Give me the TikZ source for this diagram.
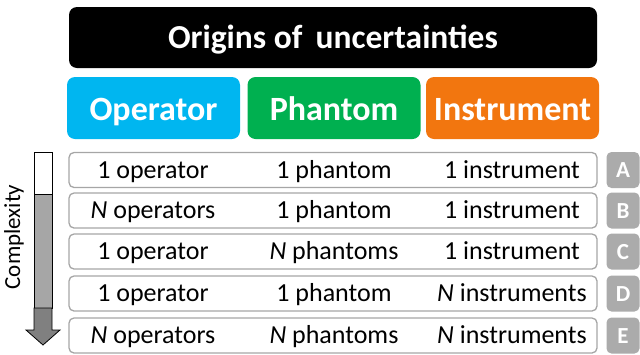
\documentclass[tikz,border=0pt]{standalone}
\usepackage{fontspec}
\setmainfont{Carlito}
\definecolor{opblue}{HTML}{00B6F0}
\definecolor{phgreen}{HTML}{00B050}
\definecolor{inorange}{HTML}{F2760F}
\definecolor{rowgray}{HTML}{A6A6A6}
\definecolor{lettergray}{HTML}{ABABAB}
\definecolor{darkgray}{HTML}{808080}
\tikzset{
  titlebox/.style={fill=black, rounded corners=8pt, inner sep=0pt},
  titletext/.style={inner sep=0pt, anchor=base, text=white, font=\fontsize{33.5}{35}\selectfont\bfseries},
  headbox/.style={rounded corners=8pt, inner sep=0pt, minimum width=173pt, minimum height=62pt},
  headtext/.style={inner sep=0pt, anchor=base, text=white, font=\fontsize{34}{36}\selectfont\bfseries},
  rowbox/.style={draw=rowgray, line width=1.3pt, fill=white, rounded corners=5pt, inner sep=0pt, minimum width=528pt, minimum height=35pt},
  letterbox/.style={fill=lettergray, rounded corners=5pt, inner sep=0pt, minimum width=33pt, minimum height=36pt},
  lettertext/.style={inner sep=0pt, anchor=base, text=white, font=\fontsize{23}{25}\selectfont\bfseries},
  cell/.style={inner sep=0pt, font=\fontsize{26}{28}\selectfont, anchor=base},
  arrowpart/.style={draw=black, line width=0.8pt},
}
\begin{document}
\begin{tikzpicture}[x=1pt,y=-1pt]
\useasboundingbox (0,0) rectangle (640,354);
% title
\node[titlebox, minimum width=528pt, minimum height=61pt] (title) at (333,37.5) {};
\node[titletext] (titlet) at (333,48) {Origins of\, uncertainties};
% headers
\node[headbox, fill=opblue] (op) at (153.5,108) {};
\node[headbox, fill=phgreen] (ph) at (334,108) {};
\node[headbox, fill=inorange] (in) at (512.5,108) {};
\node[headtext] (opt) at (153.5,120) {Operator};
\node[headtext] (pht) at (334,120) {Phantom};
\node[headtext] (int) at (512.5,120) {Instrument};
% rows
\foreach \n/\y in {A/170,B/210.5,C/251.5,D/293.5,E/335.5}{
  \node[rowbox] (row\n) at (333,\y) {};
  \node[letterbox] (let\n) at (623,\y) {};
  \node[lettertext] (lett\n) at (623,\y+7.5) {\n};
}
\node[cell] (a1) at (153,178) {1 operator};
\node[cell] (a2) at (334,178) {1 phantom};
\node[cell] (a3) at (512,178) {1 instrument};
\node[cell] (b1) at (153,218.5) {\textit{N} operators};
\node[cell] (b2) at (334,218.5) {1 phantom};
\node[cell] (b3) at (512,218.5) {1 instrument};
\node[cell] (c1) at (153,259.5) {1 operator};
\node[cell] (c2) at (334,259.5) {\textit{N} phantoms};
\node[cell] (c3) at (512,259.5) {1 instrument};
\node[cell] (d1) at (153,301.5) {1 operator};
\node[cell] (d2) at (334,301.5) {1 phantom};
\node[cell] (d3) at (512,301.5) {\textit{N} instruments};
\node[cell] (e1) at (153,343.5) {\textit{N} operators};
\node[cell] (e2) at (334,343.5) {\textit{N} phantoms};
\node[cell] (e3) at (512,343.5) {\textit{N} instruments};
% complexity arrow
\draw[arrowpart, fill=white] (34,152) rectangle (52,194);
\draw[arrowpart, fill=rowgray] (34,194) rectangle (52,308);
\draw[arrowpart, fill=darkgray] (34,308) -- (52,308) -- (52,330) -- (60,330) -- (43,345) -- (26,330) -- (34,330) -- cycle;
\node[rotate=90, inner sep=0pt, font=\fontsize{23}{25}\selectfont] (cx) at (14,237) {Complexity};
\end{tikzpicture}
\end{document}
